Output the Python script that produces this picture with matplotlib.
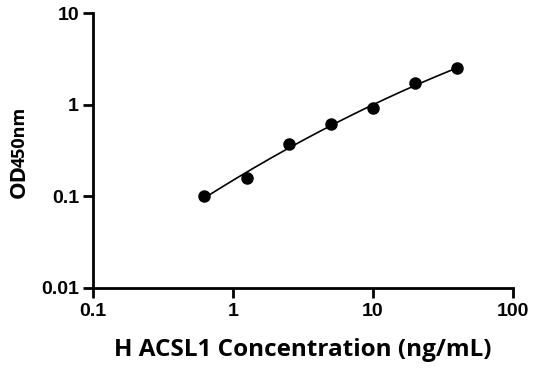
import numpy as np
import matplotlib
matplotlib.use("Agg")
import matplotlib.pyplot as plt

# Standard curve data
conc = [0.625, 1.25, 2.5, 5, 10, 20, 40]
od = [0.101, 0.160, 0.370, 0.615, 0.912, 1.71, 2.49]
x_ticks = [0.1, 1, 10, 100]
x_tick_labels = ["0.1", "1", "10", "100"]
y_ticks = [0.01, 0.1, 1, 10]
y_tick_labels = ["0.01", "0.1", "1", "10"]

plt.rcParams['font.family'] = ['Open Sans', 'DejaVu Sans']
plt.rcParams['font.weight'] = 'bold'

W, H = 536, 371
fig = plt.figure(figsize=(W / 100, H / 100), dpi=100)
ax = fig.add_axes([93 / W, 1 - 288 / H, 420 / W, 275 / H])

# fitted curve (quadratic in log-log space)
lx, ly = np.log10(conc), np.log10(od)
coef = np.polyfit(lx, ly, 2)
xs = np.linspace(lx.min(), lx.max(), 200)
ax.plot(10 ** xs, 10 ** np.polyval(coef, xs), color="black", lw=1.2, zorder=2)
ax.plot(conc, od, "o", color="black", markersize=8, zorder=3)

ax.set_xscale("log")
ax.set_yscale("log")
ax.set_xlim(0.1, 100)
ax.set_ylim(0.01, 10)
ax.set_xticks(x_ticks)
ax.set_xticklabels(x_tick_labels)
ax.set_yticks(y_ticks)
ax.set_yticklabels(y_tick_labels)
ax.minorticks_off()

for side in ["top", "right"]:
    ax.spines[side].set_visible(False)
for side in ["left", "bottom"]:
    ax.spines[side].set_linewidth(2)
ax.tick_params(axis="both", length=7, width=2)
ax.tick_params(axis="x", pad=4)
ax.tick_params(axis="y", pad=3)
for lab in ax.get_xticklabels() + ax.get_yticklabels():
    lab.set_family("Liberation Sans")
    lab.set_fontsize(14)
    lab.set_fontweight("bold")

ax.set_xlabel("H ACSL1 Concentration (ng/mL)", fontsize=17.5, fontweight="bold", labelpad=13)

# y label: "OD" with smaller "450nm" on the same baseline
t1 = fig.text(25 / W, 1 - 198 / H, "OD", rotation=90, rotation_mode="anchor",
              ha="left", va="baseline", fontsize=16, fontweight="bold")
fig.canvas.draw()
bb = t1.get_window_extent()
y_top = fig.transFigure.inverted().transform((0, bb.y1 - 3))[1]
fig.text(25 / W, y_top, "450nm", rotation=90, rotation_mode="anchor",
         ha="left", va="baseline", fontsize=13, fontweight="bold")

fig.savefig("out.png", dpi=100)
